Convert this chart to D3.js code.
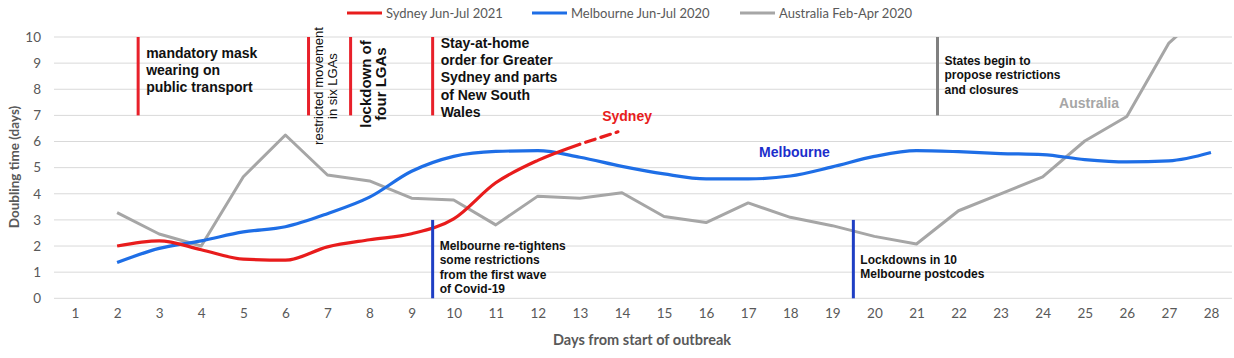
<!DOCTYPE html>
<html>
<head>
<meta charset="utf-8">
<script src="https://cdn.jsdelivr.net/npm/d3@7/dist/d3.min.js"></script>
<style>
  html, body { margin: 0; padding: 0; background: #fff; }
  svg { display: block; }
</style>
</head>
<body>
<svg id="chart" width="1234" height="358"></svg>
<script>
// ---- data ----
const days = d3.range(1, 29);
const yTicks = [0, 1, 2, 3, 4, 5, 6, 7, 8, 9, 10];
const seriesNames = ["Sydney Jun-Jul 2021", "Melbourne Jun-Jul 2020", "Australia Feb-Apr 2020"];
const sydneyDays = [2, 3, 4, 5, 6, 7, 8, 9, 10, 11, 12, 13];
const sydneyVals = [2.0, 2.2, 1.86, 1.5, 1.46, 1.97, 2.24, 2.47, 3.04, 4.42, 5.28, 5.9];
const sydneyProjDays = [13, 14];
const sydneyProjVals = [5.9, 6.42];
const melbDays = d3.range(2, 29);
const melbVals = [1.37, 1.91, 2.2, 2.54, 2.74, 3.24, 3.87, 4.86, 5.43, 5.62, 5.65, 5.4, 5.05, 4.76, 4.57, 4.57, 4.68, 5.03, 5.43, 5.65, 5.61, 5.54, 5.5, 5.31, 5.22, 5.26, 5.58];
const ausDays = d3.range(2, 29);
const ausVals = [3.28, 2.46, 2.0, 4.65, 6.25, 4.72, 4.49, 3.83, 3.76, 2.81, 3.91, 3.83, 4.04, 3.13, 2.9, 3.65, 3.1, 2.78, 2.37, 2.08, 3.35, 4.0, 4.65, 6.02, 6.96, 9.77, 11.2];
const annoRed = [
  { day: 2.5, from: 7, to: 10, lines: ["mandatory mask", "wearing on", "public transport"] },
  { day: 6.55, from: 7, to: 10, rot: ["restricted movement", "in six LGAs"] },
  { day: 7.55, from: 7, to: 10, rot: ["lockdown of", "four LGAs"] },
  { day: 9.5, from: 7, to: 10, lines: ["Stay-at-home", "order for Greater", "Sydney and parts", "of New South", "Wales"] }
];
const annoBlue = [
  { day: 9.5, from: 0, to: 3, lines: ["Melbourne re-tightens", "some restrictions", "from the first wave", "of Covid-19"] },
  { day: 19.5, from: 0, to: 3, lines: ["Lockdowns in 10", "Melbourne postcodes"] }
];
const annoGray = [
  { day: 21.5, from: 7, to: 10, lines: ["States begin to", "propose restrictions", "and closures"] }
];
const seriesLabels = [
  { text: "Sydney", day: 13.53, val: 6.8 },
  { text: "Melbourne", day: 17.26, val: 5.42 },
  { text: "Australia", day: 24.39, val: 7.3 }
];

// ---- styles ----
const colors = ["#e81c1c", "#1e6ee6", "#a6a6a6"];
const labelColors = ["#e81c1c", "#1c2ecb", "#a6a6a6"];
const axisText = "#595959";
const tickFont = "Lato, 'Open Sans', sans-serif";
const annoFont = "'Liberation Sans', Arial, sans-serif";

const svg = d3.select("#chart");
const pL = 54, pR = 1232, pT = 37, pB = 298.3;

const x = d3.scalePoint().domain(days).range([pL, pR]).padding(0.5);
const xc = d => x(1) + (d - 1) * x.step();
const y = d3.scaleLinear().domain([0, 10]).range([pB, pT]);

// gridlines
svg.append("g").selectAll("line").data(yTicks).join("line")
  .attr("x1", pL).attr("x2", pR)
  .attr("y1", d => y(d)).attr("y2", d => y(d))
  .attr("stroke", "#d9d9d9").attr("stroke-width", 1);

// y axis
const yAxis = d3.axisLeft(y).tickValues(yTicks).tickSize(0).tickPadding(0);
const gy = svg.append("g").attr("transform", `translate(${pL - 13},0)`).call(yAxis);
gy.select(".domain").remove();
gy.selectAll("text").attr("fill", axisText).attr("font-family", tickFont).attr("font-size", 13.5);

// x axis
const xAxis = d3.axisBottom(x).tickSize(0).tickPadding(0);
const gx = svg.append("g").attr("transform", `translate(0,${pB + 10})`).call(xAxis);
gx.select(".domain").remove();
gx.selectAll("text").attr("fill", axisText).attr("font-family", tickFont).attr("font-size", 13.5);

// axis titles
svg.append("text").attr("x", 642).attr("y", 345)
  .attr("text-anchor", "middle").attr("fill", axisText)
  .attr("font-family", tickFont).attr("font-weight", "bold").attr("font-size", 14.5)
  .text("Days from start of outbreak");
svg.append("text").attr("transform", `translate(19,${167}) rotate(-90)`)
  .attr("text-anchor", "middle").attr("fill", axisText)
  .attr("font-family", tickFont).attr("font-weight", "bold").attr("font-size", 13.5)
  .text("Doubling time (days)");

// clip
svg.append("clipPath").attr("id", "plotclip").append("rect")
  .attr("x", pL).attr("y", pT).attr("width", pR - pL).attr("height", pB - pT);

// lines
const smooth = d3.line().x(d => xc(d[0])).y(d => y(d[1])).curve(d3.curveMonotoneX);
const straight = d3.line().x(d => xc(d[0])).y(d => y(d[1]));
const plot = svg.append("g").attr("clip-path", "url(#plotclip)");

plot.append("path").datum(d3.zip(ausDays, ausVals)).attr("d", straight)
  .attr("fill", "none").attr("stroke", colors[2]).attr("stroke-width", 3).attr("stroke-linejoin", "round");
plot.append("path").datum(d3.zip(melbDays, melbVals)).attr("d", smooth)
  .attr("fill", "none").attr("stroke", colors[1]).attr("stroke-width", 3.2).attr("stroke-linejoin", "round");
plot.append("path").datum(d3.zip(sydneyDays, sydneyVals)).attr("d", smooth)
  .attr("fill", "none").attr("stroke", colors[0]).attr("stroke-width", 3.2).attr("stroke-linejoin", "round");
plot.append("path").datum(d3.zip(sydneyProjDays, sydneyProjVals)).attr("d", straight)
  .attr("fill", "none").attr("stroke", colors[0]).attr("stroke-width", 3.2)
  .attr("stroke-dasharray", "0,6,10,6,10,6,2,20").attr("stroke-linecap", "round");

// annotations
function drawAnno(list, color, textTops) {
  list.forEach((a, k) => {
    const ax = xc(a.day);
    svg.append("line").attr("x1", ax).attr("x2", ax).attr("y1", y(a.to)).attr("y2", y(a.from))
      .attr("stroke", color).attr("stroke-width", 3);
    if (a.lines) {
      const big = color === "#e8202a";
      const fs = big ? 14 : 12;
      const lh = big ? 17.2 : 14.4;
      const y0 = textTops[k];
      const t = svg.append("text").attr("font-family", annoFont).attr("font-weight", "bold")
        .attr("font-size", fs).attr("fill", "#111");
      a.lines.forEach((ln, i) => {
        t.append("tspan").attr("x", ax + (big ? 8 : 7)).attr("y", y0 + i * lh).text(ln);
      });
    }
    if (a.rot) {
      const isLock = a.rot[0].startsWith("lockdown");
      const fs = isLock ? 15 : 13;
      const cy = isLock ? 84 : 86;
      const offs = isLock ? [20, 35] : [14, 28];
      a.rot.forEach((ln, i) => {
        svg.append("text").attr("transform", `translate(${ax + offs[i]},${cy}) rotate(-90)`)
          .attr("text-anchor", "middle").attr("font-family", annoFont)
          .attr("font-weight", isLock ? "bold" : "normal").attr("font-size", fs).attr("fill", "#111")
          .text(ln);
      });
    }
  });
}
drawAnno(annoRed, "#e8202a", [57.5, null, null, 48]);
drawAnno(annoBlue, "#1f3fc4", [250, 263.5]);
drawAnno(annoGray, "#808080", [65]);

// series labels
seriesLabels.forEach((s, i) => {
  svg.append("text").attr("x", xc(s.day)).attr("y", y(s.val))
    .attr("font-family", annoFont).attr("font-weight", "bold").attr("font-size", 14)
    .attr("fill", labelColors[i]).text(s.text);
});

// legend
const legendX = [347, 532, 740];
seriesNames.forEach((n, i) => {
  const g = svg.append("g").attr("transform", `translate(${legendX[i]},13)`);
  g.append("line").attr("x1", 0).attr("x2", 35).attr("y1", 0).attr("y2", 0)
    .attr("stroke", colors[i]).attr("stroke-width", 3);
  g.append("text").attr("x", 39).attr("y", 4.5).attr("font-family", tickFont)
    .attr("font-size", 13).attr("fill", axisText).text(n);
});
</script>
</body>
</html>
